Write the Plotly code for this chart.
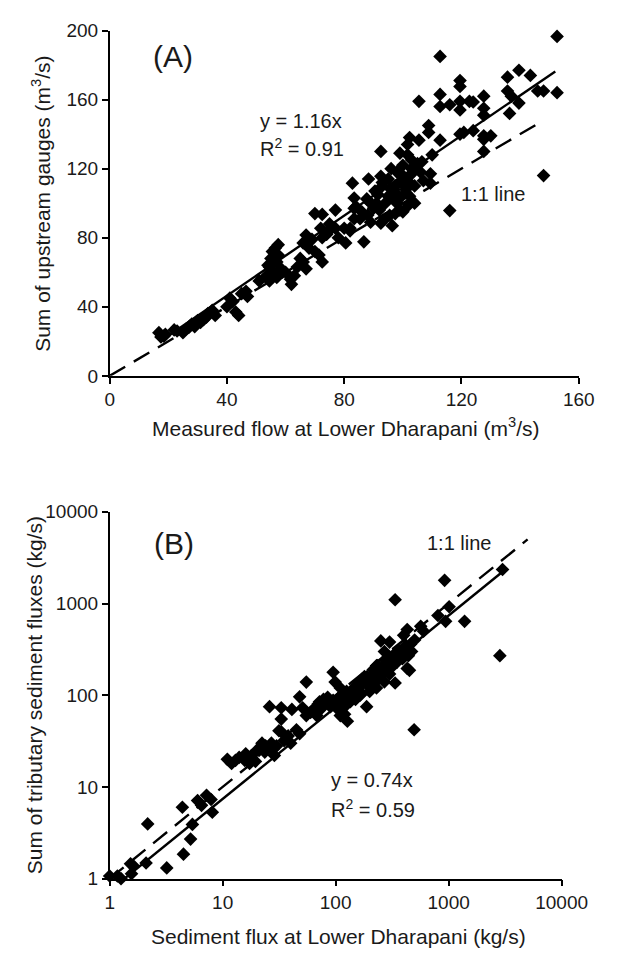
import plotly.graph_objects as go

# Panel A: measured flow at Lower Dharapani vs. sum of upstream gauges (m3/s)
flow_measured = [
    16.8, 18.5, 17.5, 19, 22, 23, 25, 26, 27, 27.5, 28, 29, 29.5, 30, 31, 31.5, 32, 33, 33.5, 35,
    36, 40, 41, 42, 43, 44, 45, 46.5, 47,
    51, 54.5, 53.5, 56, 54.5, 57, 55, 57.5, 55.5, 56.5, 57.5, 54, 57, 58.5, 56, 59, 61.7, 62, 64, 67, 66,
    67, 68, 66, 68, 69, 70, 72.5, 72, 72.5, 71.4, 72.5, 74, 75, 77, 77, 80, 80.5, 78, 82, 83.4, 83.4,
    82, 82.8, 83.4, 85.4, 86, 86.7, 87.7, 88.3, 89, 89, 90, 90.5, 91.5, 92, 92.5, 92.5, 92.5, 93,
    94, 95, 95, 95.5, 96, 96.4, 97, 97.4, 97.4, 98, 98, 99, 99, 99.5, 100, 100, 101, 101.6, 101.6,
    101.6, 102, 102.3, 102.3, 103, 103, 104, 105, 105.5, 105.5, 106.5, 107, 108.8, 108.8, 109.4,
    109.4, 110, 112.7, 112.7, 112.7, 112.7, 116, 116, 119.5, 119.5, 119.5, 119.5, 119.5, 120.8,
    122.7, 124, 124, 127.6, 127.6, 127.6, 127.6, 127.6, 127.6, 130, 135.7, 139.6, 143.5, 135.7,
    137, 139.6, 136.4, 146, 148, 152.6, 148, 152.6,
    84, 88, 91, 94, 96, 98, 100, 103, 104, 106, 93, 97, 99, 101, 60, 63, 65, 70, 74, 76,
]
flow_upstream = [
    25, 23, 22.5, 24, 26.6, 26, 25, 27, 28, 29, 30, 28.5, 31, 32, 31, 33, 32.5, 34, 36, 38,
    35, 40, 45, 43, 37, 35, 47.6, 49, 46,
    55, 55, 58, 60, 63, 66, 68, 70, 72, 74, 76, 64, 57, 62, 66, 60, 56, 53, 63, 62, 66,
    81.6, 77.6, 77, 74, 79, 94, 93.5, 85.5, 80, 70, 66, 82, 88, 96, 85.5, 85.5, 77, 80, 84, 97, 91,
    85.5, 111.6, 103, 91, 95, 77.6, 102.5, 114, 89, 100, 97, 107, 105, 96, 88.4, 115.6, 130, 110,
    100, 104, 114, 93, 120, 87, 108, 94, 110, 100, 118, 103, 129, 112, 95, 122, 106, 113, 128,
    134, 99, 104, 138, 125, 117, 110, 123, 136.5, 159, 124, 113, 145, 141, 117,
    111.6, 128, 185, 163, 156, 136.5, 157, 95.7, 171, 167.6, 159, 154, 140, 141,
    159, 158.6, 142, 162, 155, 151, 139, 137, 130, 139, 173, 177, 174, 165,
    162, 158, 152, 165, 165, 164, 116, 196.6,
    98, 93, 100, 91, 108, 105, 116, 120, 100, 118, 112, 102, 96, 108, 60, 58, 68, 72, 82, 86,
]
slope_a = 1.16
fit_a_x = [17, 152]
one_a_x = [0, 148]

# Panel B: sediment flux at Lower Dharapani vs. sum of tributary fluxes (kg/s)
sed_measured = [
    1, 1.17, 1.26, 1.53, 1.56, 1.62, 2.1, 2.17, 3.2, 4.5, 4.4, 5.2, 5.4, 6, 6.5, 7.2, 7.9, 8.1,
    13, 14, 15.7, 16, 17.3, 18, 19.5, 20, 22.3, 23.6, 25, 28, 28.7, 30, 26, 31.5, 33, 33, 33, 35,
    38, 40, 41, 45, 48, 48, 51, 55, 55, 60, 65, 70, 75, 80, 85, 90, 95, 99, 95, 100, 105, 110,
    115, 120, 127, 130, 140, 150, 160, 170, 180, 188, 200, 210, 220, 230, 240, 250, 260, 270,
    280, 300, 320, 336, 350, 380, 400, 420, 450, 430, 470, 495, 251, 300, 336, 400, 430, 500,
    566, 600, 804, 921, 940, 1010, 1384, 2840, 3000,
    85, 92, 105, 112, 125, 135, 145, 155, 165, 175, 190, 205, 215, 235, 255, 275, 290, 310,
    330, 360, 390, 410, 440, 460, 120, 140, 160, 200, 240, 280, 320, 370, 110, 180, 230, 270,
    62, 68, 72, 78, 24, 27, 21, 11, 12,
]
sed_tributary = [
    1.07, 1.07, 1.0, 1.45, 1.13, 1.38, 1.48, 3.95, 1.31, 1.85, 6.0, 2.7, 3.9, 7.1, 6.3, 8.1, 7.3, 5.3,
    19.5, 21, 19.5, 23, 18, 22, 19, 25, 30, 24, 27, 26, 22, 28, 75, 41, 40, 55, 73, 32,
    36, 30, 70, 42, 38, 96, 73, 139, 60, 65, 70, 80, 72, 85, 90, 75, 178, 139, 88, 82, 70, 60,
    95, 62, 52, 100, 110, 90, 120, 105, 140, 75, 150, 130, 170, 120, 180, 160, 200, 140,
    220, 170, 250, 136, 230, 300, 260, 350, 187, 196, 300, 42, 391, 380, 1100, 450, 520, 400,
    564, 500, 740, 1790, 640, 922, 640, 270, 2350,
    95, 80, 90, 100, 110, 85, 120, 130, 100, 150, 160, 120, 190, 210, 170, 240, 260, 200,
    280, 310, 250, 330, 270, 360, 75, 95, 130, 110, 150, 190, 220, 290, 120, 160, 210, 300,
    68, 60, 85, 90, 28, 30, 25, 20, 18,
]
slope_b = 0.74
fit_b_x = [1.35, 3000]
one_b_x = [1, 5000]

W, H = 639, 964


def px_x(p):
    return p / W


def px_y(p):
    return 1 - p / H


fig = go.Figure()

marker = dict(symbol="diamond", size=10.5, color="black", line=dict(width=0))

fig.add_trace(go.Scatter(x=flow_measured, y=flow_upstream, mode="markers", marker=marker,
                         xaxis="x", yaxis="y", showlegend=False, cliponaxis=False))
fig.add_trace(go.Scatter(x=fit_a_x, y=[slope_a * v for v in fit_a_x], mode="lines",
                         line=dict(color="black", width=2.4), xaxis="x", yaxis="y", showlegend=False))
fig.add_trace(go.Scatter(x=one_a_x, y=one_a_x, mode="lines",
                         line=dict(color="black", width=2.4, dash="18px,10px"),
                         xaxis="x", yaxis="y", showlegend=False))

fig.add_trace(go.Scatter(x=sed_measured, y=sed_tributary, mode="markers", marker=marker,
                         xaxis="x2", yaxis="y2", showlegend=False, cliponaxis=False))
fig.add_trace(go.Scatter(x=fit_b_x, y=[slope_b * v for v in fit_b_x], mode="lines",
                         line=dict(color="black", width=2.4), xaxis="x2", yaxis="y2", showlegend=False))
fig.add_trace(go.Scatter(x=one_b_x, y=one_b_x, mode="lines",
                         line=dict(color="black", width=2.4, dash="18px,10px"),
                         xaxis="x2", yaxis="y2", showlegend=False))

font = "Liberation Sans, Arial, Helvetica, sans-serif"
axis_common = dict(showline=True, linecolor="black", linewidth=1.5, ticks="outside",
                   ticklen=6, tickwidth=1.5, tickcolor="black", showgrid=False,
                   zeroline=False, mirror=False,
                   tickfont=dict(family=font, size=19, color="#1a1a1a"))

fig.update_layout(
    width=W, height=H,
    margin=dict(l=0, r=0, t=0, b=0),
    paper_bgcolor="white", plot_bgcolor="white",
    xaxis=dict(domain=[px_x(110), px_x(603)], range=[0, 160], tickvals=[0, 40, 80, 120, 160],
               anchor="y", **axis_common),
    yaxis=dict(domain=[px_y(374), px_y(21)], range=[0, 200], tickvals=[0, 40, 80, 120, 160, 200],
               anchor="x", **axis_common),
    xaxis2=dict(domain=[px_x(110), px_x(585)], type="log", range=[0, 4],
                tickvals=[1, 10, 100, 1000, 10000], ticktext=["1", "10", "100", "1000", "10000"],
                anchor="y2", **axis_common),
    yaxis2=dict(domain=[px_y(888), px_y(513)], type="log", range=[0, 4],
                tickvals=[1, 10, 100, 1000, 10000], ticktext=["1", "10", "100", "1000", "10000"],
                anchor="x2", **axis_common),
)

txt = dict(family=font, color="#1a1a1a")
annotations = [
    # panel A
    dict(x=px_x(177), y=px_y(48), text="(A)", font=dict(size=30, **txt)),
    dict(x=px_x(266), y=px_y(113), text="y = 1.16x", xanchor="left", font=dict(size=20, **txt)),
    dict(x=px_x(266), y=px_y(141), text="R<sup>2</sup> = 0.91", xanchor="left", font=dict(size=20, **txt)),
    dict(x=px_x(513), y=px_y(188), text="1:1 line", font=dict(size=20, **txt)),
    dict(x=px_x(38), y=px_y(198), text="Sum of upstream gauges (m<sup>3</sup>/s)", textangle=-90,
         font=dict(size=21, **txt)),
    dict(x=px_x(358), y=px_y(426), text="Measured flow at Lower Dharapani (m<sup>3</sup>/s)",
         font=dict(size=21, **txt)),
    # panel B
    dict(x=px_x(178), y=px_y(545), text="(B)", font=dict(size=30, **txt)),
    dict(x=px_x(478), y=px_y(545), text="1:1 line", font=dict(size=20, **txt)),
    dict(x=px_x(341), y=px_y(787), text="y = 0.74x", xanchor="left", font=dict(size=20, **txt)),
    dict(x=px_x(341), y=px_y(816), text="R<sup>2</sup> = 0.59", xanchor="left", font=dict(size=20, **txt)),
    dict(x=px_x(31), y=px_y(700), text="Sum of tributary sediment fluxes (kg/s)", textangle=-90,
         font=dict(size=21, **txt)),
    dict(x=px_x(350), y=px_y(947), text="Sediment flux at Lower Dharapani (kg/s)",
         font=dict(size=21, **txt)),
]
for a in annotations:
    a.setdefault("xanchor", "center")
    a.update(xref="paper", yref="paper", yanchor="middle", showarrow=False)
fig.update_layout(annotations=annotations)

fig.write_html("out.html")
